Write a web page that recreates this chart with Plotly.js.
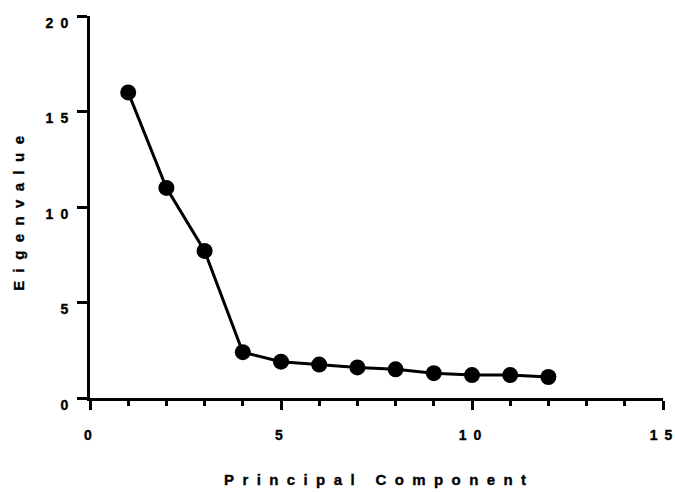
<!DOCTYPE html>
<html>
<head>
<meta charset="utf-8">
<script src="https://cdn.plot.ly/plotly-3.0.1.min.js"></script>
<style>
  html, body { margin: 0; padding: 0; background: #fff; }
  #chart text { font-family: "Liberation Sans", Arial, sans-serif !important; font-weight: 700 !important; }
  .xtick text, .ytick text { stroke: #000; stroke-width: 0.35px; }
  .annotation-text { letter-spacing: 8.4px; stroke: #000; stroke-width: 0.35px; }
</style>
</head>
<body>
<div id="chart" style="width:675px;height:493px;"></div>
<script>
const components = [1, 2, 3, 4, 5, 6, 7, 8, 9, 10, 11, 12];
const eigenvalues = [16.0, 11.0, 7.7, 2.4, 1.9, 1.75, 1.6, 1.5, 1.3, 1.2, 1.2, 1.1];
const xTickVals = [0, 5, 10, 15];
const xTickLabels = ['0', '5', '10', '15'];
const yTickVals = [0, 5, 10, 15, 20];
const yTickLabels = ['0', '5', '10', '15', '20'];
const xTitle = 'Principal Component';
const yTitle = 'Eigenvalue';

// GraphPad-style spaced digits: join characters with an en space
const spaced = s => s.split('').join('\u2002');

const baseFont = { family: '"Liberation Sans", Arial, sans-serif', color: '#000', weight: 700 };

const trace = {
  x: components,
  y: eigenvalues,
  type: 'scatter',
  mode: 'lines+markers',
  line: { color: '#000', width: 3 },
  marker: { color: '#000', size: 16 },
  cliponaxis: false,
  hoverinfo: 'skip'
};

const layout = {
  width: 675,
  height: 493,
  margin: { l: 90, r: 12, t: 16, b: 95, pad: 0 },
  paper_bgcolor: '#fff',
  plot_bgcolor: '#fff',
  showlegend: false,
  xaxis: {
    range: [0, 15],
    tickmode: 'array',
    tickvals: xTickVals,
    ticktext: xTickLabels.map(spaced),
    ticks: 'outside',
    ticklen: 9,
    tickwidth: 3,
    tickcolor: '#000',
    showline: true,
    linecolor: '#000',
    linewidth: 3,
    showgrid: false,
    zeroline: false,
    ticklabelstandoff: 13,
    ticklabelshift: -2,
    ticklabeloverflow: 'allow',
    tickfont: Object.assign({ size: 14 }, baseFont),
    minor: { dtick: 1, ticks: 'outside', ticklen: 5, tickwidth: 3, tickcolor: '#000', showgrid: false },
    automargin: false,
    fixedrange: true
  },
  yaxis: {
    range: [0, 20],
    tickmode: 'array',
    tickvals: yTickVals,
    ticktext: yTickLabels.map(spaced),
    ticks: 'outside',
    ticklen: 10,
    tickwidth: 3,
    tickcolor: '#000',
    showline: true,
    linecolor: '#000',
    linewidth: 3,
    showgrid: false,
    zeroline: false,
    ticklabelstandoff: 6,
    ticklabelshift: 7,
    ticklabeloverflow: 'allow',
    tickfont: Object.assign({ size: 14 }, baseFont),
    automargin: false,
    fixedrange: true
  },
  annotations: [
    {
      text: xTitle,
      xref: 'paper', yref: 'paper',
      x: (378.7 - 90) / 573, y: (398 - 479.5) / 382,
      xanchor: 'center', yanchor: 'middle',
      showarrow: false,
      font: Object.assign({ size: 15 }, baseFont)
    },
    {
      text: yTitle,
      xref: 'paper', yref: 'paper',
      x: (19 - 90) / 573, y: (398 - 209.8) / 382,
      xanchor: 'center', yanchor: 'middle',
      textangle: -90,
      showarrow: false,
      font: Object.assign({ size: 15 }, baseFont)
    }
  ]
};

Plotly.newPlot('chart', [trace], layout, { displayModeBar: false, staticPlot: true });
</script>
</body>
</html>
